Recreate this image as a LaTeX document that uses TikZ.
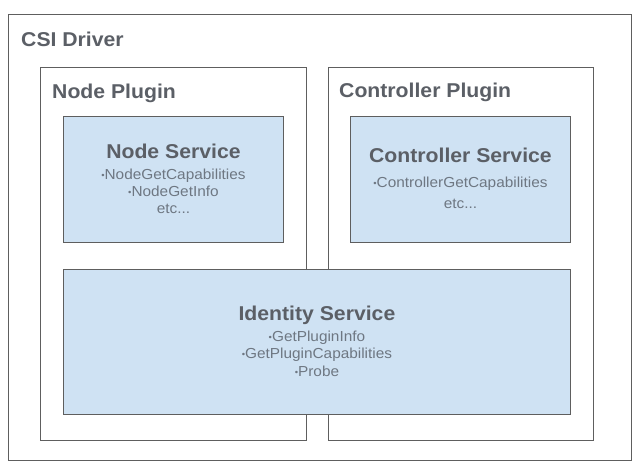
\documentclass[tikz,border=0pt]{standalone}
\usepackage{fontspec}
\setmainfont{Liberation Sans}[FakeStretch=1.06]
\usepackage{xcolor}
\usetikzlibrary{positioning}
\definecolor{boxfill}{HTML}{CFE2F3}
\definecolor{boxline}{HTML}{5E5E5E}
\definecolor{headtext}{HTML}{5B5F66}
\definecolor{itemtext}{HTML}{6E7782}
\newcommand{\bul}{{\fontsize{9}{9}\selectfont\raisebox{0.9pt}{•}}}

\begin{document}
\begin{tikzpicture}[x=1pt,y=-1pt,
    frame/.style={draw=boxline, line width=0.9pt, fill=white, anchor=north west, inner sep=0pt},
    service/.style={frame, fill=boxfill},
    heading/.style={font=\fontsize{20}{24}\selectfont\bfseries, text=headtext, inner sep=0pt},
    items/.style={font=\fontsize{14.5}{17.5}\selectfont, text=itemtext, align=center, anchor=base, inner sep=0pt}]
    \useasboundingbox[fill=white] (0,0) rectangle (642,473);

    \node[frame, minimum width=623pt, minimum height=446pt] (driver) at (8,14) {};
    \node[heading, anchor=base west] (drivertitle) at ([xshift=13pt, yshift=-33pt]driver.north west) {CSI Driver};

    \node[frame, minimum width=266pt, minimum height=373pt] (nodeplugin) at (40,67) {};
    \node[heading, anchor=base west] (nodeplugintitle) at ([xshift=12pt, yshift=-32pt]nodeplugin.north west) {Node Plugin};

    \node[frame, minimum width=265pt, minimum height=373pt] (ctrlplugin) at (328,67) {};
    \node[heading, anchor=base west] (ctrlplugintitle) at ([xshift=11pt, yshift=-31pt]ctrlplugin.north west) {Controller Plugin};

    \node[service, minimum width=220pt, minimum height=126pt] (nodesvc) at (63,116) {};
    \node[heading, anchor=base] (nodesvctitle) at ([yshift=-43pt]nodesvc.north) {Node Service};
    \node[items] (nodesvcitems) at ([yshift=-55pt]nodesvctitle.base)
        {\bul NodeGetCapabilities\\\bul NodeGetInfo\\etc...};

    \node[service, minimum width=220pt, minimum height=126pt] (ctrlsvc) at (350,116) {};
    \node[heading, anchor=base] (ctrlsvctitle) at ([yshift=-47pt]ctrlsvc.north) {Controller Service};
    \node[items, font=\fontsize{14.5}{21}\selectfont] (ctrlsvcitems) at ([yshift=-45pt]ctrlsvctitle.base)
        {\bul ControllerGetCapabilities\\etc...};

    \node[service, minimum width=507pt, minimum height=145pt] (identsvc) at (63,269) {};
    \node[heading, anchor=base] (identsvctitle) at ([yshift=-51pt]identsvc.north) {Identity Service};
    \node[items] (identsvcitems) at ([yshift=-56pt]identsvctitle.base)
        {\bul GetPluginInfo\\\bul GetPluginCapabilities\\\bul Probe};
\end{tikzpicture}
\end{document}
